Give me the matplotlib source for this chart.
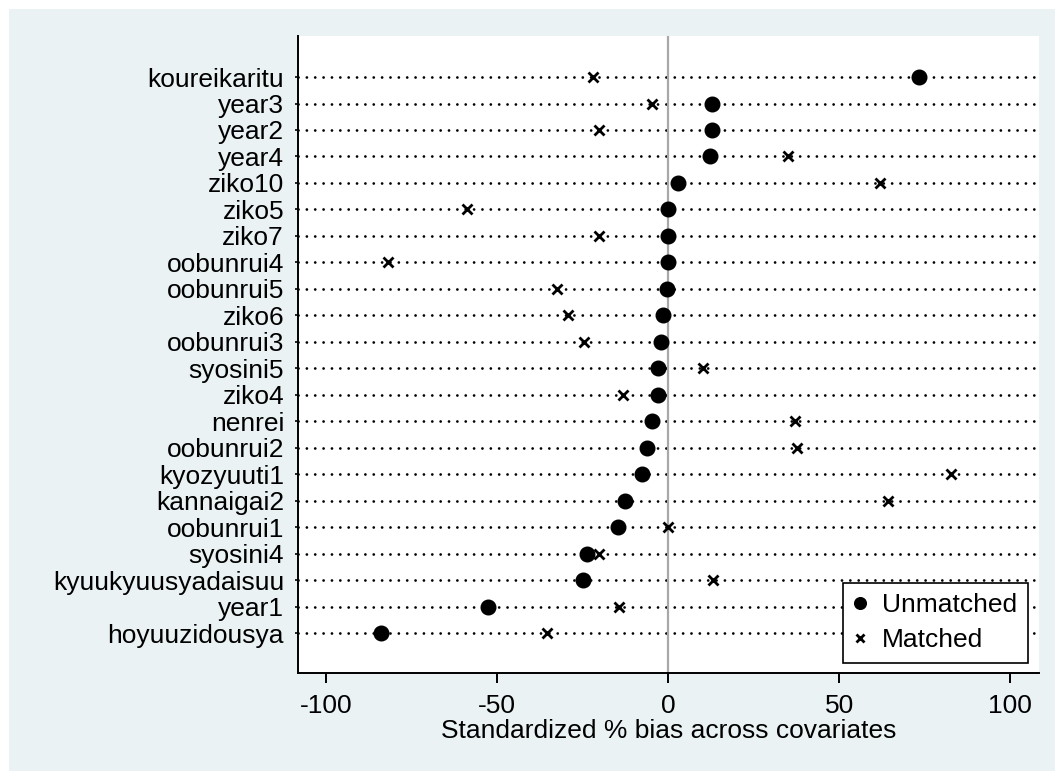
import matplotlib
matplotlib.use("Agg")
import matplotlib.pyplot as plt
from matplotlib.patches import Rectangle
import numpy as np

plt.rcParams["font.family"] = ["Liberation Sans", "DejaVu Sans"]

# covariates, top to bottom
covariates = [
    "koureikaritu", "year3", "year2", "year4", "ziko10", "ziko5", "ziko7",
    "oobunrui4", "oobunrui5", "ziko6", "oobunrui3", "syosini5", "ziko4",
    "nenrei", "oobunrui2", "kyozyuuti1", "kannaigai2", "oobunrui1",
    "syosini4", "kyuukyuusyadaisuu", "year1", "hoyuuzidousya",
]
unmatched = [73.3, 12.8, 12.8, 12.2, 2.9, 0.0, 0.0, 0.0, -0.3, -1.7, -2.0, -3.1,
             -3.1, -4.9, -6.3, -7.6, -12.7, -14.8, -23.8, -24.9, -52.7, -83.9]
matched = [-22.1, -4.9, -20.3, 35.1, 62.0, -58.8, -20.3, -82.1, -32.6, -29.2,
           -24.8, 10.0, -13.4, 37.0, 37.5, 82.8, 64.3, 0.0, -20.3, 13.1, -14.5, -35.4]
xticks = [-100, -50, 0, 50, 100]

BG = "#EAF2F3"
FS = 19

fig = plt.figure(figsize=(10.55, 7.71), dpi=100, facecolor="white")
fig.patches.append(Rectangle((9 / 1055, 0), 1, 1 - 9 / 771, transform=fig.transFigure,
                             facecolor=BG, edgecolor="none", zorder=-10))
ax = fig.add_axes([298 / 1055, 1 - 673 / 771, (1039 - 298) / 1055, (673 - 36) / 771])
ax.set_facecolor("white")

y = np.arange(len(covariates))
for yi in y:
    ax.axhline(yi, color="black", lw=2.0, ls=(0, (0.01, 3.0)), dash_capstyle="round", zorder=1)
ax.axvline(0, color="#A8A8A8", lw=1.6, zorder=2)

ax.plot(unmatched, y, "o", color="black", ms=10.5, ls="none", zorder=3, label="Unmatched")
ax.plot(matched, y, "x", color="black", ms=7, mew=2.0, ls="none", zorder=4, label="Matched")

ax.set_xlim(-108.3, 108.4)
ax.set_ylim(22.51, -1.55)
ax.set_xticks(xticks)
ax.set_xticklabels([str(t) for t in xticks])
ax.set_yticks(y)
ax.set_yticklabels(covariates)
ax.tick_params(axis="y", length=2.2, width=1.2, pad=7.8, labelsize=FS)
ax.tick_params(axis="x", length=7.5, width=1.4, pad=7.5, labelsize=FS)
ax.set_xlabel("Standardized % bias across covariates", fontsize=FS, labelpad=0.5)

for s in ["top", "right"]:
    ax.spines[s].set_visible(False)
for s in ["left", "bottom"]:
    ax.spines[s].set_linewidth(1.4)

leg = ax.legend(loc="lower right", bbox_to_anchor=(0.985, 0.016), borderaxespad=0,
                fontsize=FS, frameon=True, fancybox=False, edgecolor="black",
                framealpha=1, handletextpad=0.6, handlelength=0.5, labelspacing=0.42,
                borderpad=0.4, markerscale=0.8)
leg.get_frame().set_linewidth(1.2)

fig.savefig("out.png", dpi=100, facecolor=fig.get_facecolor())
